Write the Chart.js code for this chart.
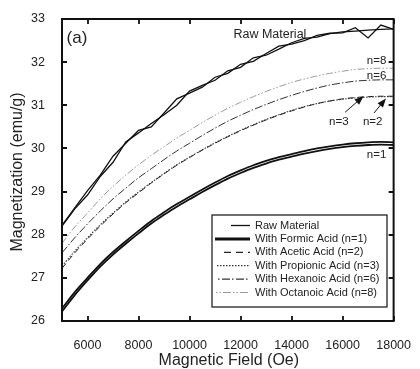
<!DOCTYPE html>
<html>
<head>
<meta charset="utf-8">
<script src="https://cdn.jsdelivr.net/npm/chart.js@4"></script>
<style>
html,body{margin:0;padding:0;background:#fff;}
#wrap{width:420px;height:369px;position:relative;}
</style>
</head>
<body>
<div id="wrap"><canvas id="c" width="420" height="369"></canvas></div>
<script>
// ---------- data ----------
const fieldOe = [5000,5500,6000,6500,7000,7500,8000,8500,9000,9500,10000,10500,11000,11500,12000,12500,13000,13500,14000,14500,15000,15500,16000,16500,17000,17500,18000];
const rawA = [28.22,28.62,29.02,29.38,29.82,30.12,30.42,30.50,30.82,31.15,31.28,31.42,31.65,31.74,31.95,32.02,32.20,32.37,32.42,32.50,32.62,32.67,32.68,32.80,32.56,32.86,32.76];
const rawB = [28.20,28.60,28.92,29.35,29.68,30.15,30.36,30.58,30.78,31.00,31.33,31.46,31.58,31.80,31.88,32.10,32.16,32.30,32.45,32.55,32.58,32.66,32.70,32.72,32.74,32.76,32.77];
const formicA = [26.29,26.67,27.00,27.32,27.60,27.85,28.09,28.32,28.52,28.71,28.88,29.05,29.21,29.36,29.49,29.61,29.71,29.80,29.87,29.94,30.00,30.05,30.09,30.12,30.14,30.15,30.14];
const formicB = [26.22,26.60,26.94,27.26,27.54,27.79,28.03,28.26,28.46,28.65,28.82,28.99,29.15,29.30,29.43,29.55,29.65,29.74,29.81,29.88,29.94,29.99,30.03,30.06,30.08,30.09,30.08];
const acetic = [27.22,27.58,27.90,28.20,28.48,28.74,28.97,29.20,29.41,29.61,29.79,29.96,30.12,30.27,30.41,30.54,30.66,30.77,30.87,30.96,31.04,31.10,31.15,31.18,31.20,31.21,31.21];
const propionic = [27.27,27.62,27.93,28.23,28.50,28.76,28.99,29.21,29.42,29.62,29.80,29.97,30.13,30.28,30.42,30.55,30.67,30.78,30.88,30.97,31.04,31.10,31.14,31.17,31.19,31.20,31.20];
const hexanoic = [27.58,27.93,28.25,28.55,28.83,29.08,29.32,29.53,29.74,29.94,30.12,30.30,30.47,30.63,30.77,30.90,31.02,31.13,31.23,31.32,31.40,31.47,31.52,31.56,31.58,31.59,31.59];
const octanoic = [27.80,28.18,28.50,28.83,29.12,29.38,29.62,29.84,30.04,30.24,30.42,30.60,30.77,30.93,31.07,31.20,31.32,31.43,31.53,31.61,31.68,31.74,31.79,31.83,31.85,31.86,31.86];
const xTicks = [6000,8000,10000,12000,14000,16000,18000];
const yTicks = [26,27,28,29,30,31,32,33];
const legendLabels = ['Raw Material','With Formic Acid (n=1)','With Acetic Acid (n=2)','With Propionic Acid (n=3)','With Hexanoic Acid (n=6)','With Octanoic Acid (n=8)'];
const xTitle = 'Magnetic Field (Oe)';
const yTitle = 'Magnetization (emu/g)';

// ---------- styles ----------
const FONT = '"Liberation Sans", Arial, Helvetica, sans-serif';
const styles = {
  raw:   {color:'#111', width:1.3, dash:[]},
  formic:{color:'#111', width:1.8, dash:[]},
  acetic:{color:'#222', width:1.0, dash:[6,4]},
  prop:  {color:'#333', width:1.1, dash:[1.5,1.5]},
  hex:   {color:'#333', width:1.0, dash:[8,2,1.5,2]},
  oct:   {color:'#9a9a9a', width:1.0, dash:[7,2,1.5,2,1.5,2]}
};
function pts(vals){ return fieldOe.map((x,i)=>({x:x,y:vals[i]})); }
function ds(label, vals, st, tension){
  return {label:label, data:pts(vals), borderColor:st.color, borderWidth:st.width, borderDash:st.dash,
    pointRadius:0, fill:false, tension:tension, cubicInterpolationMode: tension>0?'monotone':'default'};
}
const datasets = [
  ds('Raw Material', rawA, styles.raw, 0),
  ds('Raw Material', rawB, styles.raw, 0),
  ds('With Formic Acid (n=1)', formicA, styles.formic, 0.4),
  ds('With Formic Acid (n=1)', formicB, styles.formic, 0.4),
  ds('With Propionic Acid (n=3)', propionic, styles.prop, 0.4),
  ds('With Acetic Acid (n=2)', acetic, styles.acetic, 0.4),
  ds('With Hexanoic Acid (n=6)', hexanoic, styles.hex, 0.4),
  ds('With Octanoic Acid (n=8)', octanoic, styles.oct, 0.4)
];

// annotations in data units
const annotations = [
  {text:'(a)', x:5180, y:32.55, align:'left', size:17},
  {text:'Raw Material', x:13150, y:32.64, align:'center', size:12.5},
  {text:'n=8', x:17330, y:32.04, align:'center', size:11.5},
  {text:'n=6', x:17330, y:31.69, align:'center', size:11.5},
  {text:'n=3', x:15850, y:30.62, align:'center', size:11.5},
  {text:'n=2', x:17180, y:30.62, align:'center', size:11.5},
  {text:'n=1', x:17330, y:29.85, align:'center', size:11.5}
];
const arrows = [
  {x1:16100, y1:30.84, x2:16820, y2:31.21},
  {x1:17230, y1:30.82, x2:17700, y2:31.16}
];

const legendStyles = [
  {st:styles.raw, from:231},
  {st:{color:'#111', width:3, dash:[]}, from:215},
  {st:{color:'#222', width:1.2, dash:[7,5]}, from:224},
  {st:{color:'#333', width:1.2, dash:[1.5,1.5]}, from:217},
  {st:{color:'#333', width:1.2, dash:[1.5,2.5,8,2]}, from:218},
  {st:{color:'#999', width:1.2, dash:[1.5,2,1.5,2,8,2]}, from:216}
];

const decor = {
  id:'decor',
  afterDatasetsDraw(chart){
    const ctx = chart.ctx, a = chart.chartArea, xs = chart.scales.x, ys = chart.scales.y;
    ctx.save();
    // frame
    ctx.strokeStyle = '#111'; ctx.lineWidth = 2; ctx.setLineDash([]);
    ctx.strokeRect(a.left, a.top, a.right - a.left, a.bottom - a.top);
    // inward ticks
    ctx.lineWidth = 1.8;
    ctx.beginPath();
    xTicks.forEach(v=>{
      const px = Math.round(xs.getPixelForValue(v));
      ctx.moveTo(px, a.bottom); ctx.lineTo(px, a.bottom - 5);
      ctx.moveTo(px, a.top); ctx.lineTo(px, a.top + 5);
    });
    yTicks.forEach(v=>{
      const py = Math.round(ys.getPixelForValue(v));
      ctx.moveTo(a.left, py); ctx.lineTo(a.left + 5, py);
      ctx.moveTo(a.right, py); ctx.lineTo(a.right - 5, py);
    });
    ctx.stroke();
    // annotations
    ctx.fillStyle = '#222'; ctx.textBaseline = 'middle';
    annotations.forEach(t=>{
      ctx.font = t.size + 'px ' + FONT;
      ctx.textAlign = t.align;
      ctx.fillText(t.text, xs.getPixelForValue(t.x), ys.getPixelForValue(t.y));
    });
    // arrows
    arrows.forEach(r=>{
      const x1 = xs.getPixelForValue(r.x1), y1 = ys.getPixelForValue(r.y1);
      const x2 = xs.getPixelForValue(r.x2), y2 = ys.getPixelForValue(r.y2);
      const ang = Math.atan2(y2 - y1, x2 - x1);
      ctx.strokeStyle = '#111'; ctx.lineWidth = 1; ctx.setLineDash([]);
      ctx.beginPath(); ctx.moveTo(x1, y1); ctx.lineTo(x2 - 6*Math.cos(ang), y2 - 6*Math.sin(ang)); ctx.stroke();
      ctx.fillStyle = '#111';
      ctx.beginPath();
      ctx.moveTo(x2, y2);
      ctx.lineTo(x2 - 9*Math.cos(ang) + 3.5*Math.sin(ang), y2 - 9*Math.sin(ang) - 3.5*Math.cos(ang));
      ctx.lineTo(x2 - 9*Math.cos(ang) - 3.5*Math.sin(ang), y2 - 9*Math.sin(ang) + 3.5*Math.cos(ang));
      ctx.closePath(); ctx.fill();
    });
    // legend box
    const bx = 212, by = 215, bw = 175, bh = 92;
    ctx.fillStyle = '#fff'; ctx.fillRect(bx, by, bw, bh);
    ctx.strokeStyle = '#111'; ctx.lineWidth = 1.2; ctx.setLineDash([]);
    ctx.strokeRect(bx, by, bw, bh);
    ctx.font = '11px ' + FONT; ctx.textAlign = 'left'; ctx.textBaseline = 'middle';
    legendLabels.forEach((lab, i)=>{
      const yy = by + 10.5 + i*13.4;
      const ls = legendStyles[i];
      ctx.strokeStyle = ls.st.color; ctx.lineWidth = ls.st.width; ctx.setLineDash(ls.st.dash);
      ctx.beginPath(); ctx.moveTo(ls.from, yy); ctx.lineTo(250, yy); ctx.stroke();
      ctx.setLineDash([]);
      ctx.fillStyle = '#222';
      ctx.fillText(lab, 255, yy);
    });
    // axis titles
    ctx.fillStyle = '#222'; ctx.font = '16px ' + FONT; ctx.textAlign = 'center'; ctx.textBaseline = 'middle';
    ctx.fillText(xTitle, (a.left + a.right)/2 + 1, 361);
    ctx.save();
    ctx.translate(18, 172); ctx.rotate(-Math.PI/2);
    ctx.fillText(yTitle, 0, 0);
    ctx.restore();
    ctx.restore();
  }
};

new Chart(document.getElementById('c'), {
  type:'line',
  data:{datasets:datasets},
  plugins:[decor],
  options:{
    responsive:false, animation:false, devicePixelRatio:1,
    layout:{padding:{top:19, right:18, left:0, bottom:0}},
    plugins:{legend:{display:false}, tooltip:{enabled:false}},
    scales:{
      x:{type:'linear', min:5000, max:18000,
         afterBuildTicks:(s)=>{ s.ticks = xTicks.map(v=>({value:v})); },
         afterFit:(s)=>{ s.height = 48; },
         grid:{display:false}, border:{display:false},
         ticks:{color:'#222', font:{family:FONT, size:12.5}, padding:9, maxRotation:0, autoSkip:false,
                callback:(v)=>String(v)}},
      y:{type:'linear', min:26, max:33,
         afterBuildTicks:(s)=>{ s.ticks = yTicks.map(v=>({value:v})); },
         afterFit:(s)=>{ s.width = 62; },
         grid:{display:false}, border:{display:false},
         ticks:{color:'#222', font:{family:FONT, size:12.5}, padding:9, autoSkip:false,
                callback:(v)=>String(v)}}
    }
  }
});
</script>
</body>
</html>
